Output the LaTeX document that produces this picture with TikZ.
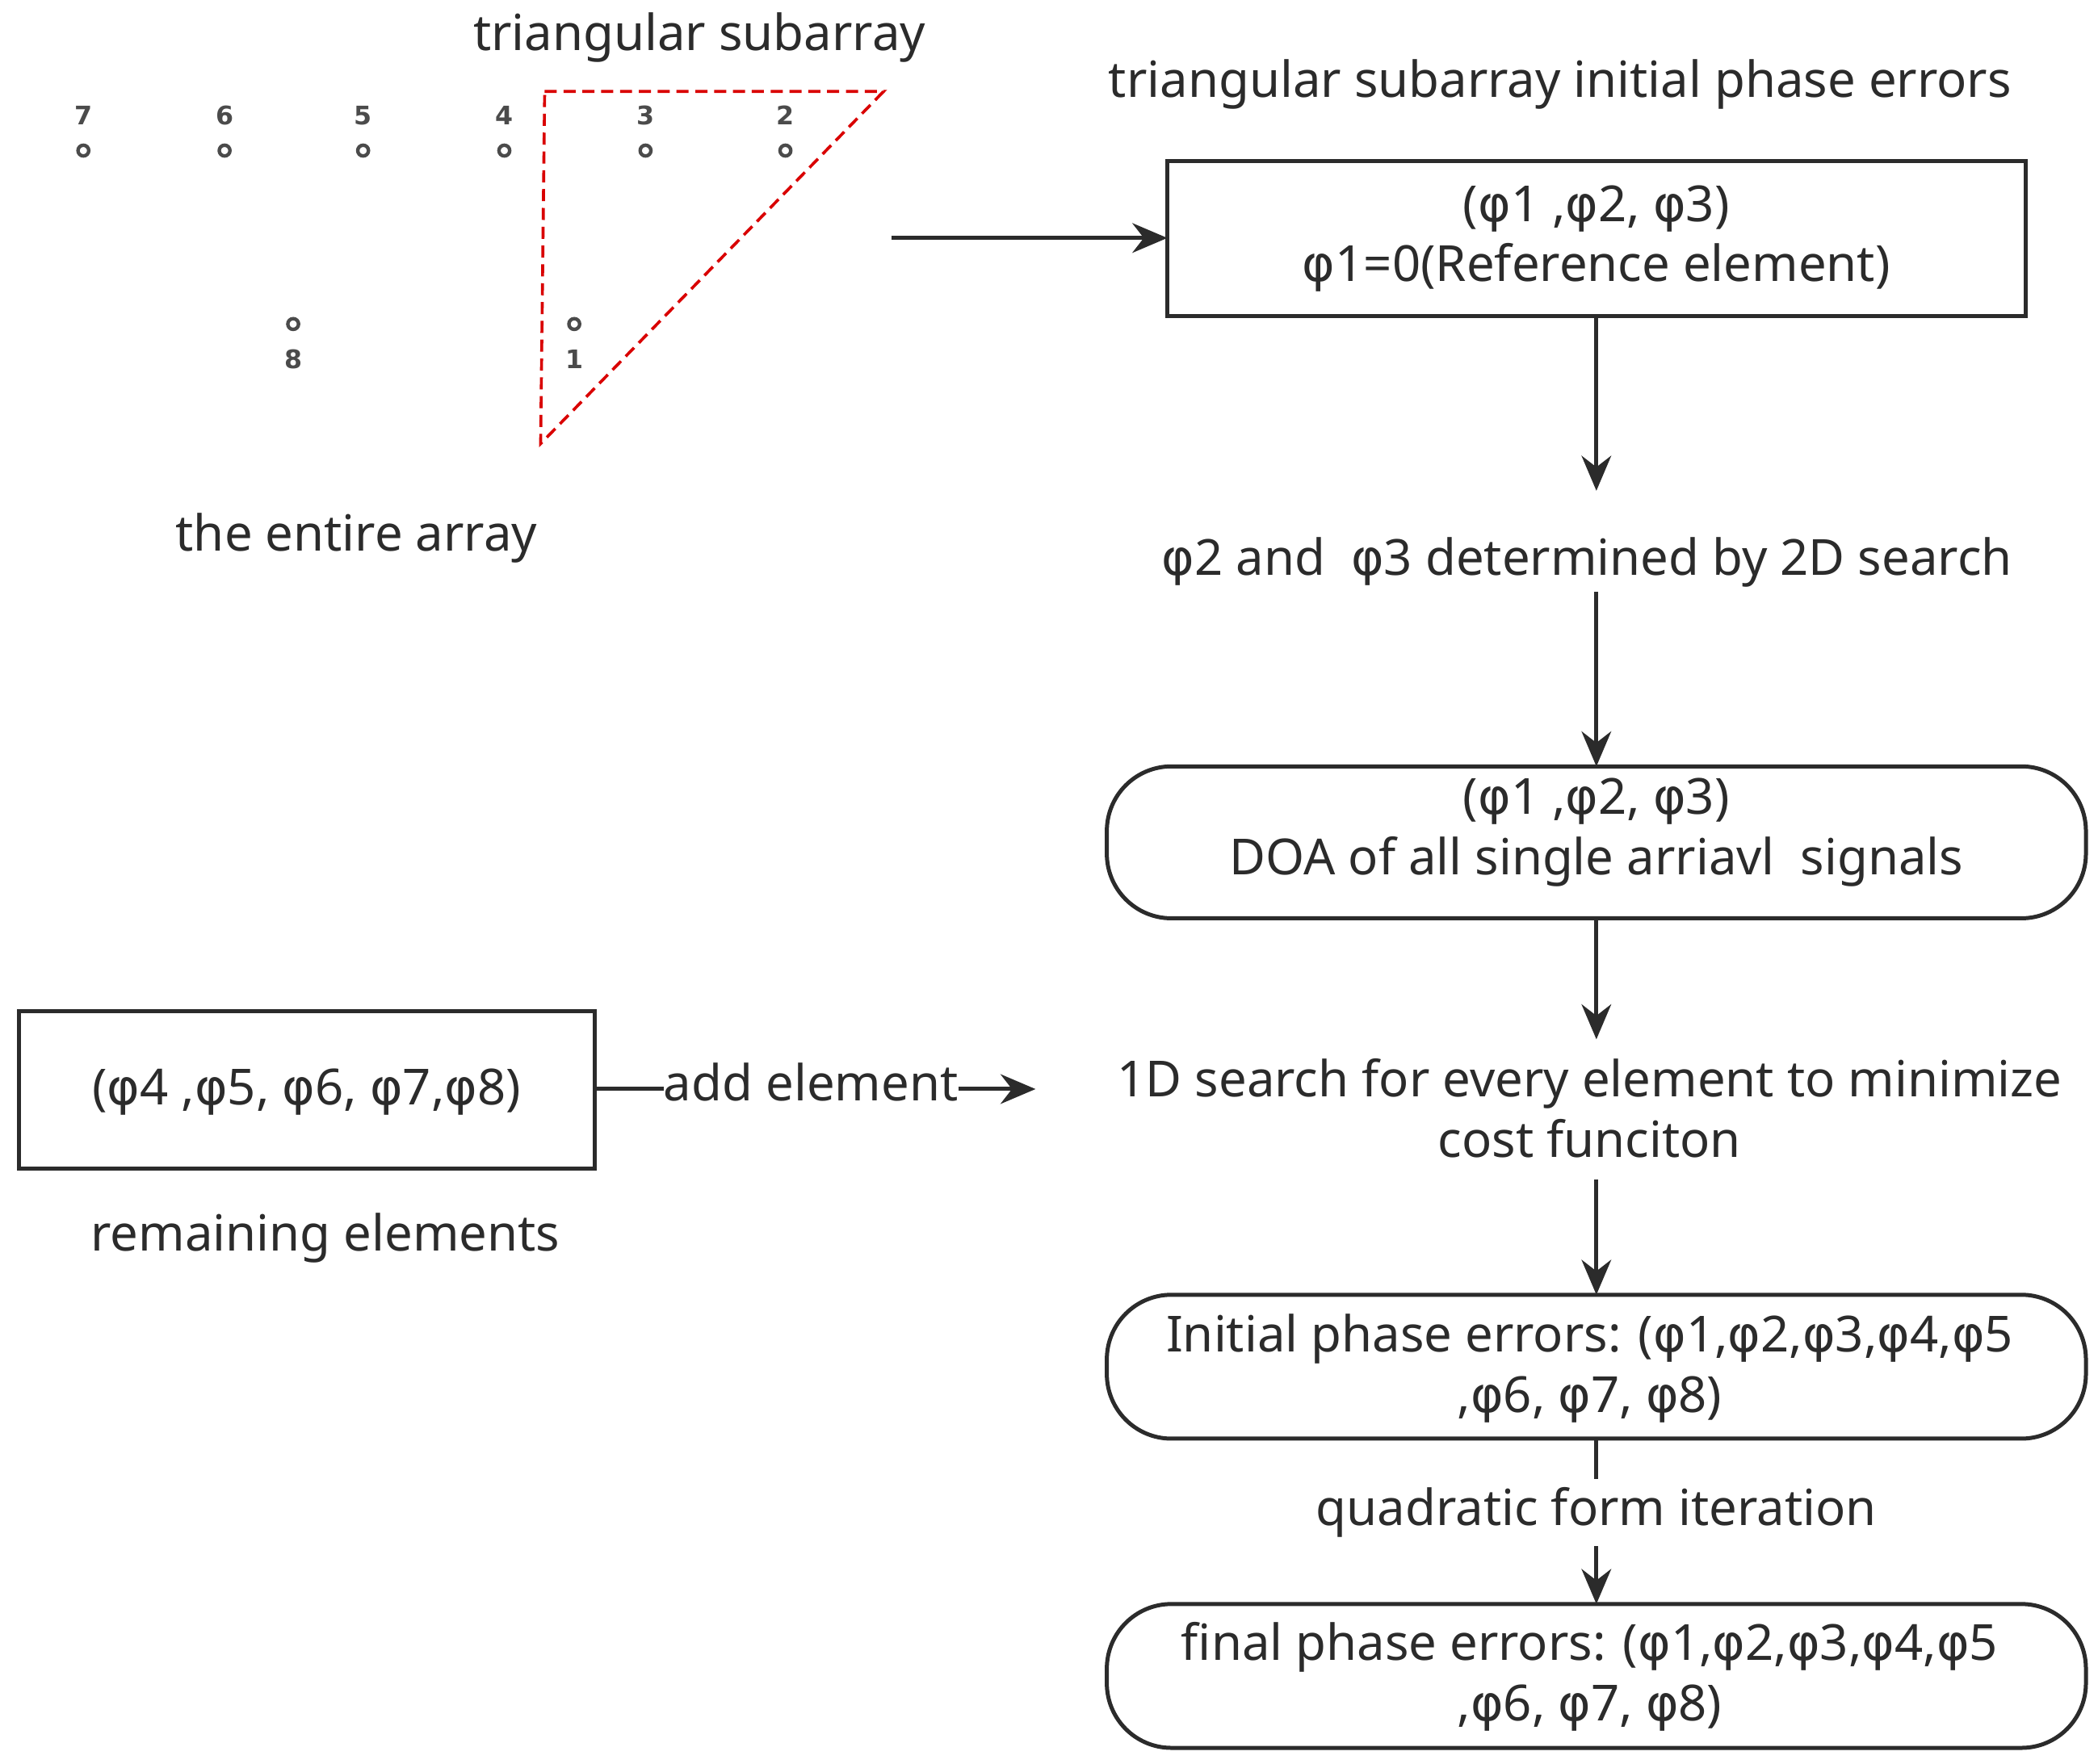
\documentclass[tikz,border=0pt]{standalone}
\usepackage{fontspec}
\setmainfont{Noto Sans}
\newfontfamily\phfont{DejaVu Sans}
\newfontfamily\numfont{DejaVu Sans}[BoldFont={DejaVu Sans Bold}]
\newcommand{\ph}{{\phfont φ}}
\usetikzlibrary{arrows.meta}
\definecolor{ink}{HTML}{2B2B2B}
\begin{document}
\begin{tikzpicture}[x=1pt,y=1pt,
  txt/.style={text=ink,font=\fontsize{37}{45}\selectfont,inner sep=0pt,align=center},
  small/.style={text=ink!85,font=\numfont\bfseries\fontsize{19}{19}\selectfont,inner sep=0pt},
  dot/.style={draw=ink!85,line width=2.6pt,circle,minimum size=8pt,inner sep=0pt},
  box/.style={draw=ink,line width=3pt},
  rbox/.style={draw=ink,line width=3pt,rounded corners=48pt},
  arr/.style={draw=ink,line width=3pt,-{Stealth[length=26pt,width=22pt]}},
  ln/.style={draw=ink,line width=3pt}]
\useasboundingbox (0,0) rectangle (1560,-1312);
% array
\foreach \n/\x in {7/62,6/167,5/270,4/375,3/480,2/584}{
  \node[small] (l\n) at (\x,-86) {\n};
  \node[dot] (d\n) at (\x,-112) {};
}
\node[dot] (d8) at (218,-241) {};
\node[small] (l8) at (218,-267) {8};
\node[dot] (d1) at (427,-241) {};
\node[small] (l1) at (427,-267) {1};
\draw[red!85!black,dashed,line width=2.2pt,dash pattern=on 9pt off 5pt] (405,-68) -- (657,-68) -- (402,-330) -- cycle;
\node[txt] (tsa) at (520,-28) {triangular subarray};
\node[txt] (tea) at (265,-400) {the entire array};
\node[txt] (tip) at (1160,-63) {triangular subarray initial phase errors};
% boxes
\draw[box] (868,-120) rectangle (1506,-235);
\node[txt] (b1) at (1187,-177.5) {(\ph1 ,\ph2, \ph3)\\\ph1=0(Reference element)};
\coordinate (arrS) at (663,-177);
\coordinate (b1W) at (868,-177);
\coordinate (b1S) at (1187,-235);
\draw[arr] (arrS) -- (b1W);
\node[txt] (t2d) at (1180,-418) {\ph2 and\ \ \ph3 determined by 2D search};
\draw[arr] (b1S) -- (1187,-365);
\draw[rbox] (823,-570) rectangle (1551,-683);
\node[txt] (b2) at (1187,-619) {(\ph1 ,\ph2, \ph3)\\DOA of all single arriavl\ \ signals};
\draw[arr] (1187,-440) -- (1187,-570);
\node[txt] (t1d) at (1182,-824) {1D search for every element to minimize\\cost funciton};
\draw[arr] (1187,-683) -- (1187,-773);
\draw[rbox] (823,-963) rectangle (1551,-1070);
\node[txt] (b3) at (1182,-1018) {Initial phase errors: (\ph1,\ph2,\ph3,\ph4,\ph5\\,\ph6, \ph7, \ph8)};
\draw[arr] (1187,-877) -- (1187,-963);
\node[txt] (tq) at (1187,-1125) {quadratic form iteration};
\draw[ln] (1187,-1070) -- (1187,-1100);
\draw[arr] (1187,-1150) -- (1187,-1193);
\draw[rbox] (823,-1193) rectangle (1551,-1300);
\node[txt] (b4) at (1182,-1247) {final phase errors: (\ph1,\ph2,\ph3,\ph4,\ph5\\,\ph6, \ph7, \ph8)};
% left box
\draw[box] (14,-752) rectangle (442,-869);
\node[txt] (lb) at (228,-812) {(\ph4 ,\ph5, \ph6, \ph7,\ph8)};
\node[txt] (trem) at (242,-921) {remaining elements};
\node[txt] (tadd) at (603,-805) {add element};
\coordinate (lbE) at (442,-810);
\draw[ln] (lbE) -- (lbE -| tadd.west);
\draw[arr] (tadd.east |- lbE) -- (770,-810);
\end{tikzpicture}
\end{document}
